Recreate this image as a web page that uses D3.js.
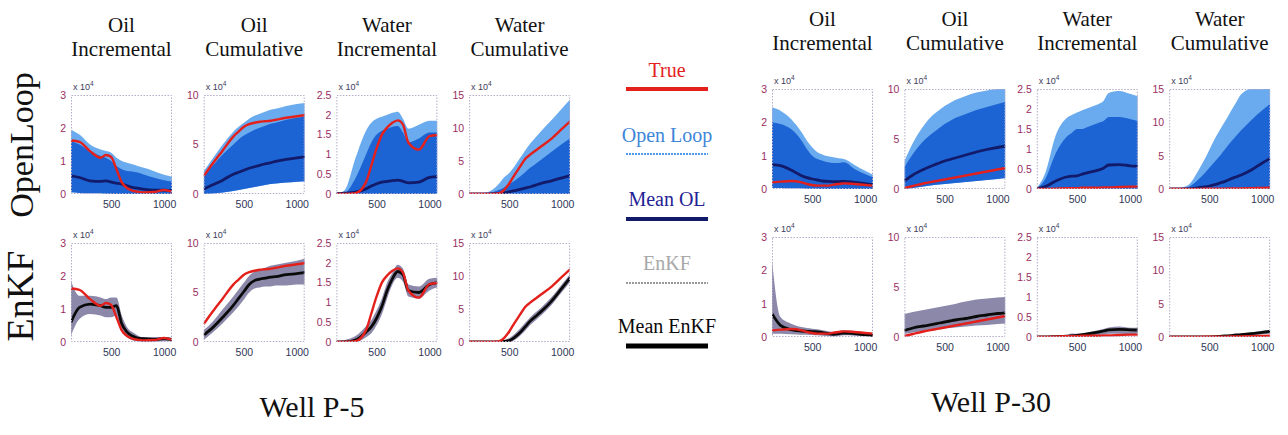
<!DOCTYPE html>
<html>
<head>
<meta charset="utf-8">
<script src="https://cdn.jsdelivr.net/npm/d3@7"></script>
<style>
  body { margin: 0; background: #ffffff; }
  svg { display: block; }
</style>
</head>
<body>
<script>
// ---- time axis (days) and tick labels ----
const days = [120, 200, 300, 400, 450, 500, 550, 600, 650, 700, 750, 800, 900, 1000, 1075];
const dayTicks = [500, 1000];
const oilIncTicks = [0, 1, 2, 3];
const oilCumTicks = [0, 5, 10];
const watIncTicks = [0, 0.5, 1, 1.5, 2, 2.5];
const watCumTicks = [0, 5, 10, 15];
const columnTitles = [["Oil", "Incremental"], ["Oil", "Cumulative"], ["Water", "Incremental"], ["Water", "Cumulative"]];
const rowTitles = ["OpenLoop", "EnKF"];
const legendLabels = ["True", "Open Loop", "Mean OL", "EnKF", "Mean EnKF"];
const wellNames = ["Well P-5", "Well P-30"];

// ---- Well P-5 ----
const p5OilIncTrue      = [1.62, 1.58, 1.3, 1.1, 1.18, 1.12, 0.75, 0.35, 0.18, 0.1, 0.07, 0.05, 0.06, 0.12, 0.07];
const p5OilIncOLMean    = [0.55, 0.5, 0.4, 0.38, 0.4, 0.36, 0.33, 0.3, 0.25, 0.2, 0.18, 0.15, 0.12, 0.12, 0.1];
const p5OilIncOLHigh    = [1.95, 1.8, 1.5, 1.35, 1.3, 1.25, 1.1, 1.0, 0.95, 0.9, 0.85, 0.8, 0.7, 0.58, 0.52];
const p5OilIncOLCore    = [1.6, 1.5, 1.3, 1.15, 1.1, 1.0, 0.85, 0.75, 0.7, 0.68, 0.65, 0.6, 0.5, 0.42, 0.38];
const p5OilIncOLLow     = [0.05, 0.03, 0.02, 0.02, 0.01, 0.01, 0, 0, 0, 0, 0, 0, 0, 0, 0];
const p5OilIncEnKFMean  = [0.6, 1.05, 1.15, 1.1, 1.05, 1.05, 1.1, 0.55, 0.3, 0.18, 0.12, 0.1, 0.08, 0.1, 0.08];
const p5OilIncEnKFHigh  = [1.85, 1.4, 1.4, 1.35, 1.3, 1.35, 1.35, 0.8, 0.45, 0.3, 0.2, 0.15, 0.15, 0.15, 0.12];
const p5OilIncEnKFLow   = [0.2, 0.7, 0.85, 0.8, 0.75, 0.75, 0.8, 0.3, 0.15, 0.05, 0.02, 0, 0, 0.02, 0.02];

const p5OilCumTrue      = [1.8, 3.0, 4.4, 5.8, 6.3, 6.8, 7.05, 7.2, 7.3, 7.35, 7.4, 7.5, 7.7, 7.85, 7.95];
const p5OilCumOLMean    = [0.5, 0.9, 1.4, 2.0, 2.2, 2.4, 2.6, 2.75, 2.9, 3.05, 3.15, 3.3, 3.5, 3.65, 3.75];
const p5OilCumOLHigh    = [2.3, 3.5, 5.0, 6.3, 6.8, 7.2, 7.6, 7.9, 8.1, 8.3, 8.5, 8.6, 8.9, 9.1, 9.2];
const p5OilCumOLCore    = [1.9, 2.8, 4.0, 5.0, 5.5, 5.9, 6.2, 6.5, 6.7, 6.9, 7.1, 7.2, 7.5, 7.7, 7.8];
const p5OilCumOLLow     = [0, 0.05, 0.15, 0.3, 0.4, 0.5, 0.6, 0.7, 0.8, 0.9, 1.0, 1.05, 1.15, 1.25, 1.3];
const p5OilCumEnKFMean  = [0.7, 1.4, 2.5, 3.7, 4.4, 5.1, 5.8, 6.2, 6.35, 6.45, 6.55, 6.6, 6.8, 6.9, 7.0];
const p5OilCumEnKFHigh  = [1.2, 2.0, 3.3, 4.6, 5.3, 6.0, 6.7, 7.1, 7.3, 7.5, 7.7, 7.8, 8.0, 8.2, 8.4];
const p5OilCumEnKFLow   = [0.2, 0.9, 1.9, 3.0, 3.6, 4.3, 5.0, 5.4, 5.5, 5.6, 5.6, 5.7, 5.7, 5.8, 5.8];

const p5WatIncTrue      = [0, 0, 0.02, 0.3, 0.72, 1.15, 1.5, 1.68, 1.8, 1.86, 1.75, 1.3, 1.12, 1.46, 1.49];
const p5WatIncOLMean    = [0.01, 0.02, 0.05, 0.13, 0.2, 0.26, 0.3, 0.32, 0.34, 0.35, 0.32, 0.28, 0.3, 0.42, 0.44];
const p5WatIncOLHigh    = [0, 0.1, 0.9, 1.6, 1.8, 1.9, 1.95, 2.0, 2.05, 2.08, 1.9, 1.65, 1.75, 1.85, 1.85];
const p5WatIncOLCore    = [0, 0.03, 0.4, 1.0, 1.3, 1.5, 1.6, 1.65, 1.7, 1.72, 1.55, 1.3, 1.4, 1.55, 1.55];
const p5WatIncOLLow     = [0, 0, 0, 0, 0, 0, 0, 0, 0, 0, 0, 0, 0, 0, 0];
const p5WatIncEnKFMean  = [0, 0, 0.05, 0.25, 0.38, 0.6, 0.9, 1.3, 1.6, 1.78, 1.7, 1.3, 1.25, 1.45, 1.5];
const p5WatIncEnKFHigh  = [0.02, 0.05, 0.15, 0.4, 0.55, 0.8, 1.1, 1.5, 1.75, 1.95, 1.85, 1.45, 1.4, 1.6, 1.62];
const p5WatIncEnKFLow   = [0, 0, 0, 0.12, 0.22, 0.42, 0.7, 1.1, 1.45, 1.62, 1.52, 1.15, 1.1, 1.3, 1.38];

const p5WatCumTrue      = [0, 0, 0, 0.1, 0.6, 1.6, 2.9, 4.1, 5.3, 6.0, 6.6, 7.2, 8.4, 9.9, 11.0];
const p5WatCumOLMean    = [0, 0, 0.02, 0.1, 0.2, 0.35, 0.5, 0.7, 0.9, 1.1, 1.35, 1.6, 2.0, 2.45, 2.8];
const p5WatCumOLHigh    = [0, 0.05, 0.3, 1.5, 2.5, 3.2, 4.2, 5.4, 6.6, 7.7, 8.6, 9.5, 11.2, 13.0, 14.3];
const p5WatCumOLCore    = [0, 0, 0.1, 0.6, 1.0, 1.5, 2.0, 2.6, 3.3, 4.0, 4.6, 5.2, 6.4, 7.6, 8.4];
const p5WatCumOLLow     = [0, 0, 0, 0, 0, 0, 0, 0, 0, 0, 0, 0, 0, 0, 0];
const p5WatCumEnKFMean  = [0, 0, 0, 0.02, 0.08, 0.2, 0.7, 1.4, 2.3, 3.2, 3.9, 4.6, 6.2, 8.2, 9.7];
const p5WatCumEnKFHigh  = [0, 0, 0.02, 0.1, 0.3, 0.6, 1.2, 2.0, 2.9, 3.8, 4.5, 5.2, 6.8, 8.8, 10.3];
const p5WatCumEnKFLow   = [0, 0, 0, 0, 0, 0.02, 0.3, 0.9, 1.7, 2.6, 3.3, 4.0, 5.6, 7.6, 9.1];

// ---- Well P-30 ----
const p30OilIncTrue     = [0.2, 0.22, 0.24, 0.2, 0.15, 0.12, 0.1, 0.1, 0.1, 0.13, 0.15, 0.17, 0.15, 0.12, 0.1];
const p30OilIncOLMean   = [0.73, 0.7, 0.57, 0.4, 0.34, 0.3, 0.27, 0.24, 0.23, 0.22, 0.22, 0.23, 0.2, 0.16, 0.13];
const p30OilIncOLHigh   = [2.45, 2.35, 2.1, 1.7, 1.45, 1.25, 1.1, 1.03, 0.98, 0.95, 0.92, 0.9, 0.72, 0.55, 0.43];
const p30OilIncOLCore   = [2.0, 1.95, 1.8, 1.45, 1.2, 1.0, 0.9, 0.85, 0.8, 0.78, 0.78, 0.8, 0.6, 0.45, 0.35];
const p30OilIncOLLow    = [0.03, 0.03, 0.02, 0.02, 0.01, 0.01, 0.01, 0, 0, 0, 0, 0, 0, 0, 0];
const p30OilIncEnKFMean = [0.7, 0.35, 0.22, 0.18, 0.17, 0.16, 0.15, 0.13, 0.1, 0.08, 0.1, 0.12, 0.1, 0.07, 0.05];
const p30OilIncEnKFHigh = [2.3, 0.6, 0.4, 0.3, 0.27, 0.25, 0.23, 0.2, 0.17, 0.15, 0.18, 0.2, 0.18, 0.14, 0.12];
const p30OilIncEnKFLow  = [0.1, 0.1, 0.08, 0.07, 0.07, 0.06, 0.05, 0.04, 0.03, 0.02, 0.03, 0.05, 0.04, 0.02, 0.01];

const p30OilCumTrue     = [0.1, 0.3, 0.55, 0.75, 0.85, 0.95, 1.05, 1.15, 1.25, 1.35, 1.45, 1.55, 1.75, 1.95, 2.1];
const p30OilCumOLMean   = [0.8, 1.4, 1.95, 2.4, 2.6, 2.8, 2.95, 3.1, 3.25, 3.4, 3.55, 3.7, 3.95, 4.15, 4.3];
const p30OilCumOLHigh   = [2.8, 4.6, 6.3, 7.5, 7.9, 8.3, 8.6, 8.9, 9.1, 9.3, 9.5, 9.65, 9.85, 10, 10];
const p30OilCumOLCore   = [2.2, 3.5, 4.8, 5.7, 6.1, 6.5, 6.8, 7.1, 7.3, 7.5, 7.7, 7.9, 8.2, 8.5, 8.7];
const p30OilCumOLLow    = [0, 0.1, 0.25, 0.4, 0.45, 0.5, 0.55, 0.6, 0.65, 0.7, 0.75, 0.8, 0.9, 1.0, 1.1];
const p30OilCumEnKFMean = [0.67, 0.9, 1.1, 1.28, 1.4, 1.5, 1.6, 1.7, 1.78, 1.85, 1.95, 2.05, 2.2, 2.35, 2.42];
const p30OilCumEnKFHigh = [2.3, 2.5, 2.7, 2.9, 3.0, 3.1, 3.2, 3.3, 3.45, 3.55, 3.65, 3.75, 3.85, 3.95, 4.0];
const p30OilCumEnKFLow  = [0.3, 0.45, 0.6, 0.75, 0.8, 0.85, 0.9, 0.95, 1.0, 1.05, 1.1, 1.15, 1.2, 1.3, 1.35];

const p30WatIncTrue     = [0, 0, 0.01, 0.02, 0.02, 0.02, 0.03, 0.03, 0.03, 0.03, 0.04, 0.04, 0.05, 0.06, 0.06];
const p30WatIncOLMean   = [0.01, 0.06, 0.2, 0.3, 0.32, 0.33, 0.37, 0.41, 0.44, 0.47, 0.52, 0.6, 0.61, 0.58, 0.57];
const p30WatIncOLHigh   = [0.02, 0.4, 1.35, 1.77, 1.85, 1.91, 1.97, 2.02, 2.07, 2.12, 2.2, 2.4, 2.45, 2.38, 2.32];
const p30WatIncOLCore   = [0.01, 0.25, 0.9, 1.3, 1.4, 1.5, 1.5, 1.55, 1.6, 1.65, 1.7, 1.8, 1.8, 1.75, 1.7];
const p30WatIncOLLow    = [0, 0, 0, 0, 0, 0, 0, 0, 0, 0, 0, 0, 0, 0, 0];
const p30WatIncEnKFMean = [0, 0, 0.01, 0.02, 0.03, 0.04, 0.06, 0.08, 0.1, 0.12, 0.15, 0.18, 0.19, 0.18, 0.17];
const p30WatIncEnKFHigh = [0.01, 0.01, 0.02, 0.04, 0.09, 0.08, 0.09, 0.11, 0.14, 0.17, 0.2, 0.24, 0.26, 0.23, 0.23];
const p30WatIncEnKFLow  = [0, 0, 0, 0, 0, 0.01, 0.02, 0.03, 0.04, 0.05, 0.06, 0.08, 0.08, 0.07, 0.06];

const p30WatCumTrue     = [0, 0, 0.01, 0.02, 0.03, 0.03, 0.04, 0.05, 0.06, 0.07, 0.08, 0.1, 0.13, 0.17, 0.2];
const p30WatCumOLMean   = [0, 0, 0.03, 0.2, 0.3, 0.45, 0.65, 0.9, 1.15, 1.5, 1.8, 2.1, 2.9, 3.9, 4.6];
const p30WatCumOLHigh   = [0, 0.1, 0.6, 2.9, 4.3, 5.9, 7.5, 8.9, 10.2, 11.6, 12.9, 14.2, 15, 15, 15];
const p30WatCumOLCore   = [0, 0.05, 0.3, 1.5, 2.3, 3.2, 4.1, 5.0, 6.0, 7.0, 7.9, 8.8, 10.4, 11.8, 12.8];
const p30WatCumOLLow    = [0, 0, 0, 0, 0, 0, 0, 0, 0, 0, 0, 0, 0, 0, 0];
const p30WatCumEnKFMean = [0, 0, 0, 0, 0, 0.02, 0.05, 0.1, 0.15, 0.22, 0.3, 0.35, 0.5, 0.7, 0.85];
const p30WatCumEnKFHigh = [0, 0, 0, 0.01, 0.02, 0.05, 0.1, 0.2, 0.27, 0.35, 0.42, 0.5, 0.7, 0.95, 1.1];
const p30WatCumEnKFLow  = [0, 0, 0, 0, 0, 0, 0.01, 0.03, 0.05, 0.08, 0.12, 0.15, 0.25, 0.4, 0.5];

// ---- assemble per-panel series (one entry per column) ----
const p5Series = [
  { ticks: oilIncTicks, exp: "4", truth: p5OilIncTrue, olMean: p5OilIncOLMean, olHigh: p5OilIncOLHigh, olCore: p5OilIncOLCore, olLow: p5OilIncOLLow, ekMean: p5OilIncEnKFMean, ekHigh: p5OilIncEnKFHigh, ekLow: p5OilIncEnKFLow },
  { ticks: oilCumTicks, exp: "4", truth: p5OilCumTrue, olMean: p5OilCumOLMean, olHigh: p5OilCumOLHigh, olCore: p5OilCumOLCore, olLow: p5OilCumOLLow, ekMean: p5OilCumEnKFMean, ekHigh: p5OilCumEnKFHigh, ekLow: p5OilCumEnKFLow },
  { ticks: watIncTicks, exp: "4", truth: p5WatIncTrue, olMean: p5WatIncOLMean, olHigh: p5WatIncOLHigh, olCore: p5WatIncOLCore, olLow: p5WatIncOLLow, ekMean: p5WatIncEnKFMean, ekHigh: p5WatIncEnKFHigh, ekLow: p5WatIncEnKFLow },
  { ticks: watCumTicks, exp: "4", truth: p5WatCumTrue, olMean: p5WatCumOLMean, olHigh: p5WatCumOLHigh, olCore: p5WatCumOLCore, olLow: p5WatCumOLLow, ekMean: p5WatCumEnKFMean, ekHigh: p5WatCumEnKFHigh, ekLow: p5WatCumEnKFLow }
];
const p30Series = [
  { ticks: oilIncTicks, exp: "4", truth: p30OilIncTrue, olMean: p30OilIncOLMean, olHigh: p30OilIncOLHigh, olCore: p30OilIncOLCore, olLow: p30OilIncOLLow, ekMean: p30OilIncEnKFMean, ekHigh: p30OilIncEnKFHigh, ekLow: p30OilIncEnKFLow },
  { ticks: oilCumTicks, exp: "4", truth: p30OilCumTrue, olMean: p30OilCumOLMean, olHigh: p30OilCumOLHigh, olCore: p30OilCumOLCore, olLow: p30OilCumOLLow, ekMean: p30OilCumEnKFMean, ekHigh: p30OilCumEnKFHigh, ekLow: p30OilCumEnKFLow },
  { ticks: watIncTicks, exp: "4", truth: p30WatIncTrue, olMean: p30WatIncOLMean, olHigh: p30WatIncOLHigh, olCore: p30WatIncOLCore, olLow: p30WatIncOLLow, ekMean: p30WatIncEnKFMean, ekHigh: p30WatIncEnKFHigh, ekLow: p30WatIncEnKFLow },
  { ticks: watCumTicks, exp: "4", truth: p30WatCumTrue, olMean: p30WatCumOLMean, olHigh: p30WatCumOLHigh, olCore: p30WatCumOLCore, olLow: p30WatCumOLLow, ekMean: p30WatCumEnKFMean, ekHigh: p30WatCumEnKFHigh, ekLow: p30WatCumEnKFLow }
];

// ---- layout and styles ----
const SERIF = "Liberation Serif, Times New Roman, Times, serif";
const SANS = "Liberation Sans, Arial, Helvetica, sans-serif";
const colors = {
  truth: "#e3201b", olFringe: "#5aa2ec", olCore: "#1e64d4", olMean: "#121a6a",
  ekBand: "#77739a", ekMean: "#0a0a0a", yTick: "#9a2e62", xTick: "#2e3556", box: "#b3abc9"
};
const layouts = [
  { series: p5Series, name: wellNames[0], x0: 71, y0: 95, colStep: 132.7, rowStep: 148, w: 101, h: 99, labelX: 312, labelY: 417 },
  { series: p30Series, name: wellNames[1], x0: 772, y0: 89, colStep: 132.4, rowStep: 148, w: 101, h: 100, labelX: 991, labelY: 412 }
];

const W = 1288, H = 435;
const svg = d3.select("body").append("svg").attr("width", W).attr("height", H);
const defs = svg.append("defs");
// slight softening of the ensemble envelopes
defs.append("filter").attr("id", "soft").attr("x", "-5%").attr("y", "-5%").attr("width", "110%").attr("height", "110%")
  .append("feGaussianBlur").attr("stdDeviation", 0.6);
let clipId = 0;

const xDomain = [120, 1075];

function serifText(sel, size) {
  return sel.attr("font-family", SERIF).style("font-family", SERIF).style("font-size", size + "px");
}

function drawPanel(px, py, w, h, s, row) {
  const x = d3.scaleLinear().domain(xDomain).range([px, px + w]);
  const y = d3.scaleLinear().domain([0, d3.max(s.ticks)]).range([py + h, py]);
  const id = "clip" + (clipId++);
  defs.append("clipPath").attr("id", id).append("rect")
    .attr("x", px).attr("y", py).attr("width", w).attr("height", h);
  const g = svg.append("g");
  const plot = g.append("g").attr("clip-path", `url(#${id})`);
  const bands = plot.append("g").attr("filter", "url(#soft)");

  const pts = (arr) => days.map((d, i) => [d, arr[i]]);
  const band = (lo, hi) => d3.area().curve(d3.curveMonotoneX)
    .x((d, i) => x(days[i])).y0((d, i) => y(lo[i])).y1((d, i) => y(hi[i]))(days);
  const line = d3.line().curve(d3.curveMonotoneX).x(d => x(d[0])).y(d => y(d[1]));

  if (row === 0) {
    bands.append("path").attr("d", band(s.olLow, s.olHigh)).attr("fill", colors.olFringe).attr("opacity", 0.9);
    bands.append("path").attr("d", band(s.olLow, s.olCore)).attr("fill", colors.olCore);
    plot.append("path").attr("d", line(pts(s.olMean))).attr("fill", "none")
      .attr("stroke", colors.olMean).attr("stroke-width", 2.8).attr("stroke-linejoin", "round");
  } else {
    bands.append("path").attr("d", band(s.ekLow, s.ekHigh)).attr("fill", colors.ekBand).attr("opacity", 0.85);
    plot.append("path").attr("d", line(pts(s.ekMean))).attr("fill", "none")
      .attr("stroke", colors.ekMean).attr("stroke-width", 2.8).attr("stroke-linejoin", "round");
  }
  plot.append("path").attr("d", line(pts(s.truth))).attr("fill", "none")
    .attr("stroke", colors.truth).attr("stroke-width", 2.4).attr("stroke-linejoin", "round");

  // dotted frame
  g.append("rect").attr("x", px + 0.5).attr("y", py + 0.5).attr("width", w - 1).attr("height", h - 1)
    .attr("fill", "none").attr("stroke", colors.box).attr("stroke-width", 1).attr("stroke-dasharray", "1.5,1.5");

  // axes
  const ya = g.append("g").attr("transform", `translate(${px},0)`)
    .call(d3.axisLeft(y).tickValues(s.ticks).tickSize(0).tickPadding(5).tickFormat(d3.format("~g")));
  ya.select(".domain").remove();
  ya.selectAll("text").attr("fill", colors.yTick).style("font-family", SANS).style("font-size", "10.5px");

  const xa = g.append("g").attr("transform", `translate(0,${py + h})`)
    .call(d3.axisBottom(x).tickValues(dayTicks).tickSize(0).tickPadding(7).tickFormat(d3.format("d")));
  xa.select(".domain").remove();
  xa.selectAll("text").attr("fill", colors.xTick).style("font-family", SANS).style("font-size", "10.5px");

  // exponent multiplier
  const m = g.append("text").attr("x", px + 2).attr("y", py - 5)
    .attr("fill", "#3c3c5a").style("font-family", SANS).style("font-size", "9px").text("x 10");
  m.append("tspan").attr("dy", -4).style("font-size", "6.5px").text(s.exp);
}

layouts.forEach(L => {
  for (let c = 0; c < 4; c++) {
    const px = L.x0 + c * L.colStep;
    // column title
    const cx = px + L.w / 2;
    serifText(svg.append("text"), 21).attr("x", cx).attr("y", L.y0 - 63).attr("text-anchor", "middle")
      .attr("fill", "#111").text(columnTitles[c][0]);
    serifText(svg.append("text"), 21).attr("x", cx).attr("y", L.y0 - 39).attr("text-anchor", "middle")
      .attr("fill", "#111").text(columnTitles[c][1]);
    for (let r = 0; r < 2; r++) {
      drawPanel(px, L.y0 + r * L.rowStep, L.w, L.h, L.series[c], r);
    }
  }
  serifText(svg.append("text"), 30).attr("x", L.labelX).attr("y", L.labelY).attr("text-anchor", "middle")
    .attr("fill", "#111").text(L.name);
});

// row titles (rotated)
[[145, 34], [296, 38]].forEach(([cy, size], i) => {
  serifText(svg.append("text"), size).attr("transform", `translate(33,${cy}) rotate(-90)`)
    .attr("text-anchor", "middle").attr("fill", "#111").text(rowTitles[i]);
});

// legend
const legendItems = [
  { label: legendLabels[0], textY: 77, lineY: 89, color: colors.truth, text: "#e3201b", width: 4, dash: null },
  { label: legendLabels[1], textY: 142, lineY: 154, color: "#4f98ec", text: "#3d86d8", width: 2, dash: "2,1" },
  { label: legendLabels[2], textY: 206, lineY: 219, color: colors.olMean, text: "#1f2396", width: 4, dash: null },
  { label: legendLabels[3], textY: 270, lineY: 283, color: "#9a9a9a", text: "#a8a8a8", width: 2, dash: "2,1" },
  { label: legendLabels[4], textY: 333, lineY: 346, color: "#000000", text: "#0a0a0a", width: 5, dash: null }
];
const lg = svg.append("g");
legendItems.forEach(it => {
  serifText(lg.append("text"), 20).attr("x", 667).attr("y", it.textY).attr("text-anchor", "middle")
    .attr("fill", it.text).text(it.label);
  lg.append("line").attr("x1", 626).attr("x2", 708).attr("y1", it.lineY).attr("y2", it.lineY)
    .attr("stroke", it.color).attr("stroke-width", it.width)
    .attr("stroke-dasharray", it.dash);
});
</script>
</body>
</html>
